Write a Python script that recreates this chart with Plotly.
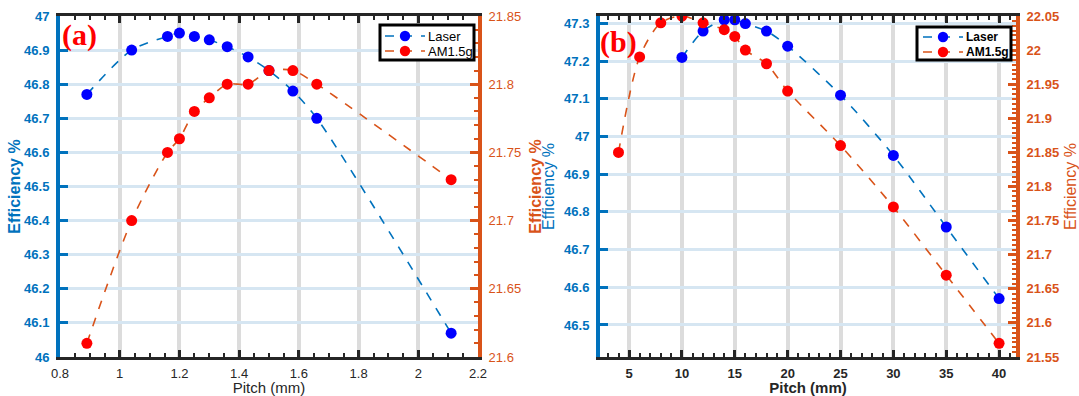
import plotly.graph_objects as go

# ---------------- data ----------------
# Panel (a)
pitch_a_laser = [0.89, 1.04, 1.16, 1.2, 1.25, 1.3, 1.36, 1.43, 1.5, 1.58, 1.66, 2.11]
eff_a_laser = [46.77, 46.90, 46.94, 46.95, 46.94, 46.93, 46.91, 46.88, 46.84, 46.78, 46.70, 46.07]
pitch_a_am = [0.89, 1.04, 1.16, 1.2, 1.25, 1.3, 1.36, 1.43, 1.5, 1.58, 1.66, 2.11]
eff_a_am = [21.61, 21.70, 21.75, 21.76, 21.78, 21.79, 21.80, 21.80, 21.81, 21.81, 21.80, 21.73]

# Panel (b)
pitch_b_laser = [10, 12, 14, 15, 16, 18, 20, 25, 30, 35, 40]
eff_b_laser = [47.21, 47.28, 47.31, 47.31, 47.30, 47.28, 47.24, 47.11, 46.95, 46.76, 46.57]
pitch_b_am = [4, 6, 8, 10, 12, 14, 15, 16, 18, 20, 25, 30, 35, 40]
eff_b_am = [21.85, 21.99, 22.04, 22.05, 22.04, 22.03, 22.02, 22.00, 21.98, 21.94, 21.86, 21.77, 21.67, 21.57]

series_names = ["Laser", "AM1.5g"]
panel_labels = ["(a)", "(b)"]
x_title = "Pitch (mm)"
y_title = "Efficiency %"

# ---------------- style ----------------
W, H = 1079, 396
BLUE_LINE = "#0072BD"
ORANGE_LINE = "#D95319"
BLUE_MK = "#0000FF"
RED_MK = "#FF0000"
DARK = "#262626"
GRID_X = "#DCDCDC"
GRID_Y = "#D6E6F2"
FONT = "Liberation Sans"

fig = go.Figure()

def add_series(x, y, xa, ya, name, lcolor, mcolor):
    fig.add_trace(go.Scatter(
        x=x, y=y, xaxis=xa, yaxis=ya, name=name, showlegend=False,
        mode="lines+markers",
        line=dict(color=lcolor, width=1.6, dash="dash", shape="spline", smoothing=0.8),
        marker=dict(color=mcolor, size=11, line=dict(width=0)),
    ))

add_series(pitch_a_laser, eff_a_laser, "x", "y", series_names[0], BLUE_LINE, BLUE_MK)
add_series(pitch_a_am, eff_a_am, "x", "y2", series_names[1], ORANGE_LINE, RED_MK)
add_series(pitch_b_laser, eff_b_laser, "x2", "y3", series_names[0], BLUE_LINE, BLUE_MK)
add_series(pitch_b_am, eff_b_am, "x2", "y4", series_names[1], ORANGE_LINE, RED_MK)

ydom = [39 / H, 380 / H]

def xaxis_cfg(domain, rng, dtick, minor_dtick, bold, anchor):
    w = "bold" if bold else "normal"
    return dict(
        domain=domain, range=rng, dtick=dtick, tick0=0, anchor=anchor,
        ticks="inside", ticklen=7, tickwidth=3, tickcolor=DARK,
        showline=True, linecolor=DARK, linewidth=3, mirror="ticks",
        showgrid=True, gridcolor=GRID_X, gridwidth=4, zeroline=False,
        minor=dict(dtick=minor_dtick, ticks="inside", ticklen=4, tickwidth=2, tickcolor=DARK, showgrid=False),
        tickfont=dict(family=FONT, size=13, color=DARK, weight=w),
        title=dict(text=x_title, font=dict(family=FONT, size=15, color=DARK, weight=w), standoff=12),
        automargin=False, ticklabelstandoff=2,
    )

def yleft_cfg(domain_anchor, rng, bold_title, standoff):
    return dict(
        domain=ydom, range=rng, dtick=0.1, tick0=0, anchor=domain_anchor, side="left",
        ticks="inside", ticklen=8, tickwidth=3, tickcolor=BLUE_LINE,
        showline=True, linecolor=BLUE_LINE, linewidth=4,
        showgrid=True, gridcolor=GRID_Y, gridwidth=3, zeroline=False,
        tickfont=dict(family=FONT, size=13, color=BLUE_LINE, weight="bold"),
        title=dict(text=y_title, font=dict(family=FONT, size=16, color=BLUE_LINE,
                                           weight="bold" if bold_title else "normal"), standoff=standoff),
        automargin=False, ticklabelstandoff=4,
    )

def yright_cfg(overlay, anchor, rng, minor_dtick, bold_ticks, bold_title, standoff):
    return dict(
        overlaying=overlay, anchor=anchor, side="right", range=rng, dtick=0.05, tick0=0,
        ticks="inside", ticklen=8, tickwidth=3, tickcolor=ORANGE_LINE,
        showline=True, linecolor=ORANGE_LINE, linewidth=4,
        showgrid=False, zeroline=False,
        minor=dict(dtick=minor_dtick, ticks="inside", ticklen=4, tickwidth=2, tickcolor=ORANGE_LINE, showgrid=False),
        tickfont=dict(family=FONT, size=13, color=ORANGE_LINE, weight="bold" if bold_ticks else "normal"),
        title=dict(text=y_title, font=dict(family=FONT, size=16, color=ORANGE_LINE,
                                           weight="bold" if bold_title else "normal"), standoff=standoff),
        automargin=False, ticklabelstandoff=4,
    )

fig.update_layout(
    width=W, height=H,
    margin=dict(l=0, r=0, t=0, b=0),
    paper_bgcolor="white", plot_bgcolor="white",
    font=dict(family=FONT),
    xaxis=xaxis_cfg([60 / W, 478 / W], [0.8, 2.2], 0.2, 0.05, False, "y"),
    xaxis2=xaxis_cfg([600 / W, 1016 / W], [2.25, 41.6], 5, 1, True, "y3"),
    yaxis=yleft_cfg("x", [46, 47], True, 0),
    yaxis2=yright_cfg("y", "x", [21.6, 21.85], 0.01, False, True, 11),
    yaxis3=yleft_cfg("x2", [46.415, 47.32], False, 6),
    yaxis4=yright_cfg("y3", "x2", [21.55, 22.05], 0.05 / 7, True, False, 17),
    showlegend=False,
)

# ---------- manual legends (pixel positions converted to paper coords) ----------
def px(x):
    return x / W

def py(y):
    return (H - y) / H

def draw_legend(box, rows, line_x, mk_x, text_x, bold, size):
    x0, y0, x1, y1 = box
    fig.add_shape(type="rect", xref="paper", yref="paper",
                  x0=px(x0), x1=px(x1), y0=py(y1), y1=py(y0),
                  fillcolor="white", line=dict(color="black", width=3), layer="above")
    specs = [(series_names[0], BLUE_LINE, BLUE_MK), (series_names[1], ORANGE_LINE, RED_MK)]
    for (name, lc, mc), yy in zip(specs, rows):
        fig.add_shape(type="line", xref="paper", yref="paper",
                      x0=px(line_x[0]), x1=px(line_x[1]), y0=py(yy), y1=py(yy),
                      line=dict(color=lc, width=1.6, dash="dash"), layer="above")
        r = 5.2
        fig.add_shape(type="circle", xref="paper", yref="paper",
                      x0=px(mk_x - r), x1=px(mk_x + r), y0=py(yy + r), y1=py(yy - r),
                      fillcolor=mc, line=dict(width=0), layer="above")
        fig.add_annotation(text=name, xref="paper", yref="paper", x=px(text_x), y=py(yy),
                           xanchor="left", yanchor="middle", showarrow=False,
                           font=dict(family=FONT, size=size, color="black",
                                     weight="bold" if bold else "normal"))

draw_legend((380, 25, 474, 60), [36, 51], (385, 425), 405, 426, False, 13)
draw_legend((917, 27, 1011, 60), [37, 52], (923, 963), 943, 964, True, 12)

fig.add_annotation(text=panel_labels[0], xref="paper", yref="paper",
                   x=px(60), y=py(35), xanchor="left", yanchor="middle",
                   showarrow=False, font=dict(family="Liberation Serif", size=30, color="red", weight="bold"))
fig.add_annotation(text=panel_labels[1], xref="paper", yref="paper",
                   x=px(598), y=py(42), xanchor="left", yanchor="middle",
                   showarrow=False, font=dict(family="Liberation Serif", size=30, color="red", weight="bold"))

fig.write_html("out.html", config={"displayModeBar": False},
               post_script="document.body.style.margin='0';document.body.style.overflow='hidden';")
